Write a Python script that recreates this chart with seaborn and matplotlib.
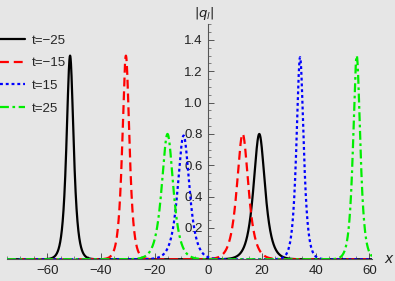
import numpy as np
import pandas as pd
import seaborn as sns
import matplotlib.pyplot as plt
from matplotlib.ticker import MultipleLocator, FixedLocator

# soliton peaks: (center, height) per time
times = ["t=\u221225", "t=\u221215", "t=15", "t=25"]
tall_centers = [-51.5, -30.7, 34.2, 55.3]
tall_heights = [1.30, 1.30, 1.29, 1.30]
short_centers = [19.0, 12.8, -9.2, -15.2]
short_heights = [0.80, 0.80, 0.79, 0.80]

colors = ["black", "#ff0000", "#0000ff", "#00ee00"]
dashes = [(None, None), (4, 2.2), (1.3, 1.3), (4, 1.6, 1.2, 1.6)]

bg = "#e6e6e6"
sns.set_theme(style="white", rc={"axes.facecolor": bg, "figure.facecolor": bg})
plt.rcParams["font.family"] = ["Liberation Sans", "DejaVu Sans"]

fig = plt.figure(figsize=(3.95, 2.81), dpi=100)
ax = fig.add_axes([7 / 395, (281 - 259.3) / 281, 365 / 395, 235 / 281])

x = np.linspace(-75, 61, 4000)
for i, lab in enumerate(times):
    # bright-soliton profile a*sech(k*a*(x-x0)) through the read peaks
    y = np.zeros_like(x)
    for c, a in [(tall_centers[i], tall_heights[i]), (short_centers[i], short_heights[i])]:
        y += a / np.cosh(0.66 * a * (x - c))
    df = pd.DataFrame({"x": x, "q": y})
    sns.lineplot(data=df, x="x", y="q", ax=ax, color=colors[i], lw=1.6,
                 label=lab, zorder=3 + i)
    line = ax.get_lines()[-1]
    if dashes[i][0] is not None:
        line.set_dashes(dashes[i])

ax.set_xlim(-75, 61)
ax.set_ylim(0, 1.5)
ax.set_xlabel("")
ax.set_ylabel("")

for s in ["top", "right"]:
    ax.spines[s].set_visible(False)
ax.spines["left"].set_position(("data", 0))
ax.spines["bottom"].set_position(("data", 0))
for s in ["left", "bottom"]:
    ax.spines[s].set_color("#555555")
    ax.spines[s].set_linewidth(0.8)
    ax.spines[s].set_zorder(2)

ax.xaxis.set_major_locator(FixedLocator([-60, -40, -20, 0, 20, 40, 60]))
ax.xaxis.set_minor_locator(MultipleLocator(5))
ax.yaxis.set_major_locator(FixedLocator([0.2, 0.4, 0.6, 0.8, 1.0, 1.2, 1.4]))
ax.yaxis.set_minor_locator(MultipleLocator(0.05))
ax.set_xticklabels(["\u221260", "\u221240", "\u221220", "0", "20", "40", "60"])
ax.set_yticklabels(["0.2", "0.4", "0.6", "0.8", "1.0", "1.2", "1.4"])
ax.tick_params(which="both", direction="in", colors="#555555", labelcolor="#222222",
               labelsize=9.5, bottom=True, left=True)
ax.tick_params(which="major", length=4, width=0.7, pad=4)
ax.tick_params(which="minor", length=2, width=0.5)

ax.annotate(r"$|q_l|$", xy=(0, 1.5), xytext=(-3, 2), textcoords="offset points",
            ha="center", va="bottom", fontsize=9.5, color="#222222", annotation_clip=False)
ax.annotate(r"$x$", xy=(61, 0), xytext=(9, 0), textcoords="offset points",
            ha="left", va="center", fontsize=10, color="#222222", annotation_clip=False)

leg = ax.legend(loc="upper left", bbox_to_anchor=(-7 / 365, 1.0 - 10 / 235), frameon=False,
                fontsize=9.6, handlelength=1.9, handletextpad=0.45, labelspacing=0.78,
                borderaxespad=0, borderpad=0)

fig.savefig("out.png", dpi=100, facecolor=bg)
